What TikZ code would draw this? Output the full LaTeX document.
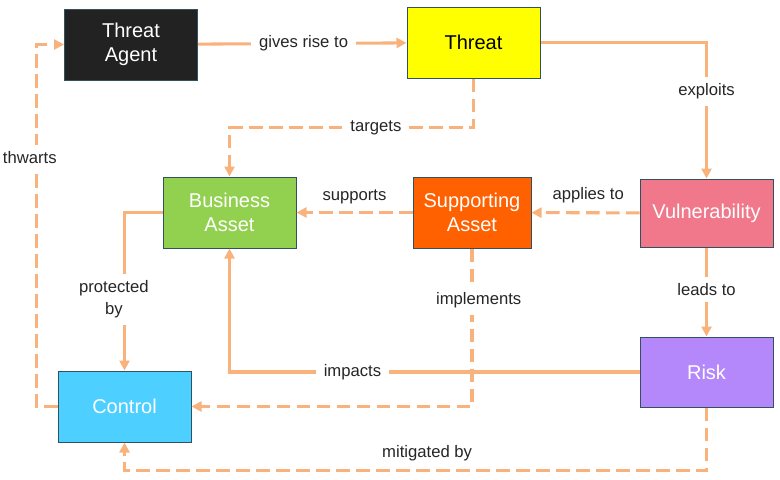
\documentclass[tikz,border=0pt]{standalone}
\usepackage{fontspec}
\setmainfont{Liberation Sans}
\usetikzlibrary{arrows.meta}
\definecolor{linkc}{HTML}{F9B27C}
\definecolor{boxline}{HTML}{31515F}
\definecolor{agentc}{HTML}{222222}
\definecolor{threatc}{HTML}{FFFF00}
\definecolor{businessc}{HTML}{92D050}
\definecolor{supportc}{HTML}{FF6000}
\definecolor{vulnc}{HTML}{F0788A}
\definecolor{riskc}{HTML}{B488FA}
\definecolor{controlc}{HTML}{4DCFFF}
\definecolor{lblc}{HTML}{262626}

\begin{document}
\begin{tikzpicture}[x=0.75pt, y=-0.75pt,
  box/.style={draw=boxline, line width=0.75pt, minimum width=99.75pt, minimum height=53.25pt,
    inner sep=0pt, align=center, text=white, font=\fontsize{15}{18}\selectfont},
  link/.style={draw=linkc, line width=2.3pt, -{Triangle[length=7.5pt,width=7.5pt]}},
  dlink/.style={link, dash pattern=on 10pt off 5pt},
  lbl/.style={fill=white, inner xsep=6pt, inner ysep=5pt, text=lblc, align=center, font=\fontsize{12.5}{16.5}\selectfont}]
\useasboundingbox (0,0) rectangle (780,479);
\node[box, fill=agentc] (agent) at (131,44.5) {Threat\\Agent};
\node[box, fill=threatc, text=black] (threat) at (473.5,42.5) {Threat};
\node[box, fill=businessc] (business) at (229.5,212.5) {Business\\Asset};
\node[box, fill=supportc, minimum width=88.5pt] (support) at (472,212.5) {Supporting\\Asset};
\node[box, fill=vulnc, minimum height=51pt] (vuln) at (706.5,213) {Vulnerability};
\node[box, fill=riskc, minimum height=52.5pt] (risk) at (706.5,372) {Risk};
\node[box, fill=controlc] (control) at (124.5,406.5) {Control};
\draw[link] (agent) -- node[lbl, xshift=1pt] {gives rise to} (threat);
\draw[link] (threat.east) -| node[lbl, pos=0.68] {exploits} (vuln.north);
\draw[dlink] (threat.south) -- ++(0,49) -| node[lbl, pos=0.2] {targets} (business.north);
\draw[dlink] (support) -- node[lbl, above=0pt] {supports} (business);
\draw[dlink] (vuln) -- node[lbl, above=1pt, xshift=2pt] {applies to} (support);
\draw[link] (vuln) -- node[lbl, yshift=2pt] {leads to} (risk);
\draw[link] (business.west) -| node[lbl, pos=0.775, xshift=-8pt] {protected\\by} (control.north);
\draw[dlink] (support.south) |- node[lbl, pos=0.165, xshift=5pt] {implements} (control.east);
\draw[link] (risk.west) -| node[lbl, pos=0.35] {impacts} (business.south);
\draw[dlink] (risk.south) -- ++(0,63) -| node[lbl, pos=0.24, above=1pt] {mitigated by} (control.south);
\draw[dlink] (control.west) -- ++(-21,0) |- node[lbl, pos=0.344, xshift=-5pt] {thwarts} (agent.west);
\end{tikzpicture}
\end{document}
